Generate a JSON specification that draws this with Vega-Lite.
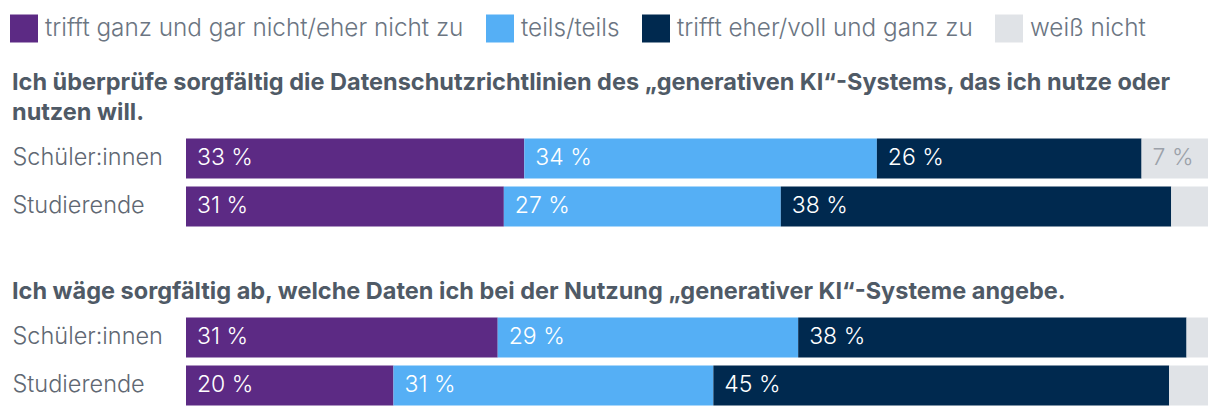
{
  "$schema": "https://vega.github.io/schema/vega-lite/v6.json",
  "padding": {"left": 10, "top": 14.5, "right": 12, "bottom": 10},
  "background": "white",
  "data": {"values": [
    {"q": 1, "row": "Schüler:innen", "cat": "trifft ganz und gar nicht/eher nicht zu", "order": 1, "value": 33.1, "label": "33 %"},
    {"q": 1, "row": "Schüler:innen", "cat": "teils/teils", "order": 2, "value": 34.5, "label": "34 %"},
    {"q": 1, "row": "Schüler:innen", "cat": "trifft eher/voll und ganz zu", "order": 3, "value": 25.9, "label": "26 %"},
    {"q": 1, "row": "Schüler:innen", "cat": "weiß nicht", "order": 4, "value": 6.5, "label": "7 %"},
    {"q": 1, "row": "Studierende", "cat": "trifft ganz und gar nicht/eher nicht zu", "order": 1, "value": 31.1, "label": "31 %"},
    {"q": 1, "row": "Studierende", "cat": "teils/teils", "order": 2, "value": 27.1, "label": "27 %"},
    {"q": 1, "row": "Studierende", "cat": "trifft eher/voll und ganz zu", "order": 3, "value": 38.2, "label": "38 %"},
    {"q": 1, "row": "Studierende", "cat": "weiß nicht", "order": 4, "value": 3.6, "label": ""},
    {"q": 2, "row": "Schüler:innen", "cat": "trifft ganz und gar nicht/eher nicht zu", "order": 1, "value": 30.5, "label": "31 %"},
    {"q": 2, "row": "Schüler:innen", "cat": "teils/teils", "order": 2, "value": 29.4, "label": "29 %"},
    {"q": 2, "row": "Schüler:innen", "cat": "trifft eher/voll und ganz zu", "order": 3, "value": 38.0, "label": "38 %"},
    {"q": 2, "row": "Schüler:innen", "cat": "weiß nicht", "order": 4, "value": 2.1, "label": ""},
    {"q": 2, "row": "Studierende", "cat": "trifft ganz und gar nicht/eher nicht zu", "order": 1, "value": 20.3, "label": "20 %"},
    {"q": 2, "row": "Studierende", "cat": "teils/teils", "order": 2, "value": 31.3, "label": "31 %"},
    {"q": 2, "row": "Studierende", "cat": "trifft eher/voll und ganz zu", "order": 3, "value": 44.6, "label": "45 %"},
    {"q": 2, "row": "Studierende", "cat": "weiß nicht", "order": 4, "value": 3.8, "label": ""}
  ]},
  "config": {
    "view": {"stroke": null},
    "font": "Inter",
    "concat": {"spacing": 53},
    "legend": {
      "orient": "none",
      "legendX": -176,
      "legendY": -124,
      "direction": "horizontal",
      "title": null,
      "symbolType": "square",
      "symbolSize": 784,
      "symbolStrokeWidth": 0,
      "symbolOpacity": 1,
      "labelFontSize": 24.3,
      "labelFont": "Inter",
      "labelFontWeight": 300,
      "labelColor": "#6b7582",
      "labelOffset": 7,
      "columnPadding": 22,
      "labelLimit": 0
    }
  },
  "resolve": {"scale": {"color": "shared"}},
  "vconcat": [
    {
      "title": {"text": ["Ich überprüfe sorgfältig die Datenschutzrichtlinien des „generativen KI“-Systems, das ich nutze oder", "nutzen will."], "anchor": "start", "frame": "bounds", "fontSize": 23.5, "fontWeight": "bold", "color": "#4f5a66", "lineHeight": 30.5, "offset": 14},
      "transform": [
        {"filter": "datum.q == 1"},
        {"stack": "value", "groupby": ["row"], "sort": [{"field": "order", "order": "ascending"}], "as": ["v0", "v1"]}
      ],
      "width": 1022,
      "height": {"step": 48},
      "encoding": {
        "y": {"field": "row", "type": "nominal", "sort": ["Schüler:innen", "Studierende"], "scale": {"paddingInner": 0.1667, "paddingOuter": 0},
          "axis": {"title": null, "domain": false, "ticks": false, "labelAlign": "left", "labelPadding": 174, "labelFontSize": 23.5, "labelFontWeight": 300, "labelColor": "#5f6873", "labelLimit": 0}}
      },
      "layer": [
        {"mark": {"type": "bar"},
         "encoding": {
           "x": {"field": "v0", "type": "quantitative", "scale": {"domain": [0, 100], "nice": false}, "axis": null},
           "x2": {"field": "v1"},
           "color": {"field": "cat", "type": "nominal", "sort": null,
             "scale": {"domain": ["trifft ganz und gar nicht/eher nicht zu", "teils/teils", "trifft eher/voll und ganz zu", "weiß nicht"], "range": ["#5c2a84", "#55aff5", "#00294f", "#e0e3e7"]}}
         }},
        {"transform": [{"filter": "datum.label != ''"}],
         "mark": {"type": "text", "align": "left", "baseline": "middle", "dx": 11, "fontSize": 23, "fontWeight": 300},
         "encoding": {
           "x": {"field": "v0", "type": "quantitative"},
           "text": {"field": "label"},
           "color": {"condition": {"test": "datum.cat == 'weiß nicht'", "value": "#9ba1a9"}, "value": "white"}
         }}
      ]
    },
    {
      "title": {"text": "Ich wäge sorgfältig ab, welche Daten ich bei der Nutzung „generativer KI“-Systeme angebe.", "anchor": "start", "frame": "bounds", "fontSize": 23.5, "fontWeight": "bold", "color": "#4f5a66", "offset": 14},
      "transform": [
        {"filter": "datum.q == 2"},
        {"stack": "value", "groupby": ["row"], "sort": [{"field": "order", "order": "ascending"}], "as": ["v0", "v1"]}
      ],
      "width": 1022,
      "height": {"step": 48},
      "encoding": {
        "y": {"field": "row", "type": "nominal", "sort": ["Schüler:innen", "Studierende"], "scale": {"paddingInner": 0.1667, "paddingOuter": 0},
          "axis": {"title": null, "domain": false, "ticks": false, "labelAlign": "left", "labelPadding": 174, "labelFontSize": 23.5, "labelFontWeight": 300, "labelColor": "#5f6873", "labelLimit": 0}}
      },
      "layer": [
        {"mark": {"type": "bar"},
         "encoding": {
           "x": {"field": "v0", "type": "quantitative", "scale": {"domain": [0, 100], "nice": false}, "axis": null},
           "x2": {"field": "v1"},
           "color": {"field": "cat", "type": "nominal", "sort": null,
             "scale": {"domain": ["trifft ganz und gar nicht/eher nicht zu", "teils/teils", "trifft eher/voll und ganz zu", "weiß nicht"], "range": ["#5c2a84", "#55aff5", "#00294f", "#e0e3e7"]}}
         }},
        {"transform": [{"filter": "datum.label != ''"}],
         "mark": {"type": "text", "align": "left", "baseline": "middle", "dx": 11, "fontSize": 23, "fontWeight": 300},
         "encoding": {
           "x": {"field": "v0", "type": "quantitative"},
           "text": {"field": "label"},
           "color": {"condition": {"test": "datum.cat == 'weiß nicht'", "value": "#9ba1a9"}, "value": "white"}
         }}
      ]
    }
  ]
}
